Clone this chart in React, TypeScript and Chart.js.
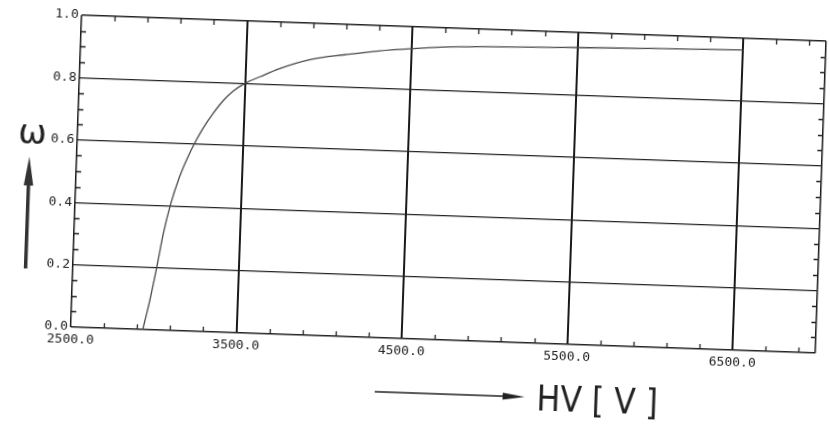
import React, { useEffect, useRef } from "react";
import { Chart, registerables } from "chart.js";

Chart.register(...registerables);

// ---- data ----
const hvVolts = [2935, 2972, 3006, 3039, 3077, 3126, 3165, 3211, 3257, 3314, 3372, 3431, 3500, 3590, 3700, 3900, 4100, 4300, 4500, 4750, 5000, 5500, 6000, 6500];
const efficiency = [0, 0.096, 0.2, 0.31, 0.405, 0.495, 0.55, 0.605, 0.652, 0.7, 0.742, 0.774, 0.8, 0.823, 0.85, 0.885, 0.903, 0.919, 0.93, 0.94, 0.945, 0.952, 0.958, 0.963];

const xLabelValues = [2500, 3500, 4500, 5500, 6500];
const xGridValues = [3500, 4500, 5500, 6500];
const yLabelValues = [0, 0.2, 0.4, 0.6, 0.8, 1.0];
const X_MIN = 2500;
const X_MAX = 7000;
const X_MINOR_STEP = 200;
const Y_MIN = 0;
const Y_MAX = 1;
const Y_MINOR_STEP = 0.05;
const yAxisTitle = "ω";
const xAxisTitle = "HV [ V ]";

const near = (a: number, b: number) => Math.abs(a - b) < 1e-6;

const decorPlugin = {
  id: "decor",
  afterDraw(chart: any) {
    const { ctx, chartArea } = chart;
    const xs = chart.scales.x;
    const ys = chart.scales.y;
    const { left, right, top, bottom } = chartArea;
    const TL = 5;
    ctx.save();
    ctx.strokeStyle = "#222";
    ctx.lineWidth = 1.3;
    ctx.beginPath();
    xs.ticks.forEach((t: any) => {
      const v = t.value;
      if (near(v, X_MIN) || near(v, X_MAX) || xGridValues.some((g) => near(g, v))) return;
      const px = Math.round(xs.getPixelForValue(v)) + 0.5;
      ctx.moveTo(px, top);
      ctx.lineTo(px, top + TL);
      ctx.moveTo(px, bottom);
      ctx.lineTo(px, bottom - TL);
    });
    ys.ticks.forEach((t: any) => {
      const v = t.value;
      if (yLabelValues.some((g) => near(g, v))) return;
      const py = Math.round(ys.getPixelForValue(v)) + 0.5;
      ctx.moveTo(left, py);
      ctx.lineTo(left + TL, py);
      ctx.moveTo(right, py);
      ctx.lineTo(right - TL, py);
    });
    ctx.stroke();

    // y axis symbol and arrow
    ctx.fillStyle = "#222";
    ctx.font = "34px 'DejaVu Sans'";
    ctx.textAlign = "center";
    ctx.textBaseline = "alphabetic";
    ctx.fillText(yAxisTitle, 30, 157);
    ctx.fillStyle = "#333";
    ctx.fillRect(26, 196, 3.5, 86);
    ctx.beginPath();
    ctx.moveTo(27.7, 170);
    ctx.lineTo(32.5, 199);
    ctx.lineTo(23, 199);
    ctx.closePath();
    ctx.fill();

    // x axis arrow and title
    ctx.strokeStyle = "#222";
    ctx.lineWidth = 1.6;
    ctx.beginPath();
    ctx.moveTo(381, 393);
    ctx.lineTo(514, 393);
    ctx.stroke();
    ctx.fillStyle = "#222";
    ctx.beginPath();
    ctx.moveTo(531, 393);
    ctx.lineTo(509, 389.5);
    ctx.lineTo(509, 396.5);
    ctx.closePath();
    ctx.fill();
    ctx.font = "35px 'Liberation Sans Narrow', 'DejaVu Sans Condensed', sans-serif";
    ctx.textAlign = "left";
    ctx.fillText(xAxisTitle, 543, 406);
    ctx.restore();
  },
};

export default function App() {
  const canvasRef = useRef<HTMLCanvasElement | null>(null);

  useEffect(() => {
    if (!canvasRef.current) return;
    const points = hvVolts.map((x, i) => ({ x, y: efficiency[i] }));
    const chart = new Chart(canvasRef.current, {
      type: "line",
      data: {
        datasets: [
          {
            data: points,
            borderColor: "#4a4a4a",
            borderWidth: 1.3,
            pointRadius: 0,
            cubicInterpolationMode: "monotone",
            fill: false,
          },
        ],
      },
      options: {
        animation: false,
        responsive: false,
        layout: { padding: { left: 0, right: 10, top: 27, bottom: 0 } },
        plugins: { legend: { display: false }, tooltip: { enabled: false } },
        scales: {
          x: {
            type: "linear",
            min: X_MIN,
            max: X_MAX,
            afterBuildTicks: (scale: any) => {
              const ticks: any[] = [];
              for (let v = X_MIN; v <= X_MAX + 1e-6; v += X_MINOR_STEP) ticks.push({ value: v });
              if (!near(ticks[ticks.length - 1].value, X_MAX)) ticks.push({ value: X_MAX });
              scale.ticks = ticks;
            },
            afterFit: (scale: any) => {
              scale.height = 85;
            },
            border: { display: false },
            grid: {
              drawTicks: false,
              color: (c: any) => {
                const v = c.tick ? c.tick.value : NaN;
                if (near(v, X_MIN) || near(v, X_MAX) || xGridValues.some((g) => near(g, v))) return "#1a1a1a";
                return "rgba(0,0,0,0)";
              },
              lineWidth: (c: any) => {
                const v = c.tick ? c.tick.value : NaN;
                return near(v, X_MIN) || near(v, X_MAX) ? 1.5 : 2;
              },
            },
            ticks: {
              autoSkip: false,
              maxRotation: 0,
              padding: 5,
              color: "#222",
              font: { family: "'DejaVu Sans Mono', monospace", size: 13 },
              callback: (value: any) => (xLabelValues.some((g) => near(g, Number(value))) ? Number(value).toFixed(1) : ""),
            },
          },
          y: {
            type: "linear",
            min: Y_MIN,
            max: Y_MAX,
            afterFit: (scale: any) => {
              scale.width = 75;
            },
            border: { display: false },
            grid: {
              drawTicks: false,
              color: (c: any) => {
                const v = c.tick ? c.tick.value : NaN;
                return yLabelValues.some((g) => near(g, v)) ? "#222" : "rgba(0,0,0,0)";
              },
              lineWidth: (c: any) => {
                const v = c.tick ? c.tick.value : NaN;
                return near(v, Y_MIN) || near(v, Y_MAX) ? 1.5 : 1.2;
              },
            },
            ticks: {
              stepSize: Y_MINOR_STEP,
              autoSkip: false,
              padding: 3,
              color: "#222",
              font: { family: "'DejaVu Sans Mono', monospace", size: 13 },
              callback: (value: any) => {
                const v = Number(value);
                const hit = yLabelValues.find((g) => near(g, v));
                return hit === undefined ? "" : hit.toFixed(1);
              },
            },
          },
        },
      },
      plugins: [decorPlugin],
    } as any);
    return () => chart.destroy();
  }, []);

  return (
    <div
      style={{
        position: "absolute",
        left: 0,
        top: 0,
        width: 830,
        height: 424,
        background: "#fff",
        transform: "rotate(2deg)",
        transformOrigin: "415px 212px",
      }}
    >
      <canvas ref={canvasRef} width={830} height={424} style={{ display: "block", width: 830, height: 424 }} />
    </div>
  );
}
